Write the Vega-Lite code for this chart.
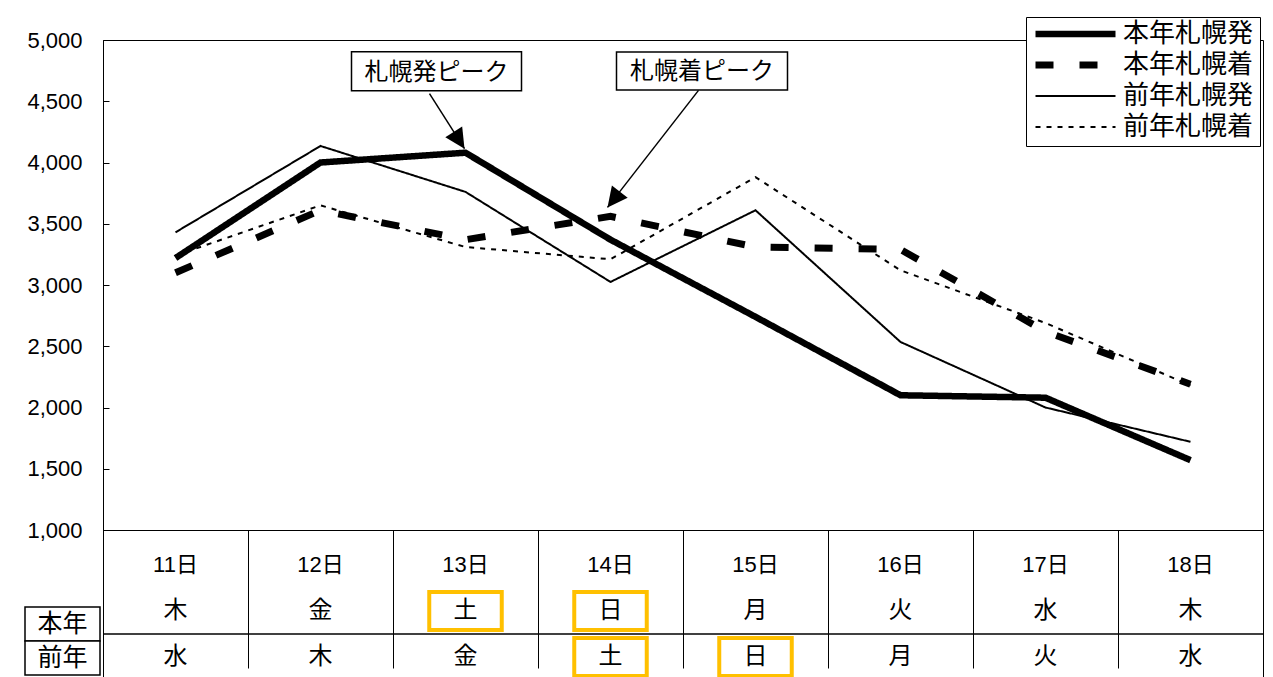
{
  "$schema": "https://vega.github.io/schema/vega-lite/v6.json",
  "width": 1160,
  "height": 637,
  "autosize": {"type": "none"},
  "padding": {"left": 103, "top": 40, "right": 10, "bottom": 0},
  "background": "white",
  "config": {
    "font": "Liberation Sans, Noto Sans CJK JP",
    "view": {"stroke": "black", "strokeWidth": 1},
    "axis": {"grid": false}
  },
  "datasets": {
    "lines": [
      {"day": "11日", "series": "本年札幌発", "value": 3220},
      {"day": "12日", "series": "本年札幌発", "value": 4000},
      {"day": "13日", "series": "本年札幌発", "value": 4080},
      {"day": "14日", "series": "本年札幌発", "value": 3370},
      {"day": "15日", "series": "本年札幌発", "value": 2740},
      {"day": "16日", "series": "本年札幌発", "value": 2100},
      {"day": "17日", "series": "本年札幌発", "value": 2080},
      {"day": "18日", "series": "本年札幌発", "value": 1570},
      {"day": "11日", "series": "本年札幌着", "value": 3100},
      {"day": "12日", "series": "本年札幌着", "value": 3610},
      {"day": "13日", "series": "本年札幌着", "value": 3370},
      {"day": "14日", "series": "本年札幌着", "value": 3560},
      {"day": "15日", "series": "本年札幌着", "value": 3310},
      {"day": "16日", "series": "本年札幌着", "value": 3290},
      {"day": "17日", "series": "本年札幌着", "value": 2620},
      {"day": "18日", "series": "本年札幌着", "value": 2190},
      {"day": "11日", "series": "前年札幌発", "value": 3430},
      {"day": "12日", "series": "前年札幌発", "value": 4135},
      {"day": "13日", "series": "前年札幌発", "value": 3760},
      {"day": "14日", "series": "前年札幌発", "value": 3025},
      {"day": "15日", "series": "前年札幌発", "value": 3610},
      {"day": "16日", "series": "前年札幌発", "value": 2535},
      {"day": "17日", "series": "前年札幌発", "value": 2000},
      {"day": "18日", "series": "前年札幌発", "value": 1720},
      {"day": "11日", "series": "前年札幌着", "value": 3240},
      {"day": "12日", "series": "前年札幌着", "value": 3650},
      {"day": "13日", "series": "前年札幌着", "value": 3310},
      {"day": "14日", "series": "前年札幌着", "value": 3210},
      {"day": "15日", "series": "前年札幌着", "value": 3880},
      {"day": "16日", "series": "前年札幌着", "value": 3120},
      {"day": "17日", "series": "前年札幌着", "value": 2690},
      {"day": "18日", "series": "前年札幌着", "value": 2180}
    ],
    "peaks": [
      {"label": "札幌発ピーク", "day": "13日", "value": 4080},
      {"label": "札幌着ピーク", "day": "14日", "value": 3560}
    ],
    "table": [
      {"day": "11日", "row": "日付", "text": "11日"},
      {"day": "12日", "row": "日付", "text": "12日"},
      {"day": "13日", "row": "日付", "text": "13日"},
      {"day": "14日", "row": "日付", "text": "14日"},
      {"day": "15日", "row": "日付", "text": "15日"},
      {"day": "16日", "row": "日付", "text": "16日"},
      {"day": "17日", "row": "日付", "text": "17日"},
      {"day": "18日", "row": "日付", "text": "18日"},
      {"day": "11日", "row": "本年", "text": "木"},
      {"day": "12日", "row": "本年", "text": "金"},
      {"day": "13日", "row": "本年", "text": "土"},
      {"day": "14日", "row": "本年", "text": "日"},
      {"day": "15日", "row": "本年", "text": "月"},
      {"day": "16日", "row": "本年", "text": "火"},
      {"day": "17日", "row": "本年", "text": "水"},
      {"day": "18日", "row": "本年", "text": "木"},
      {"day": "11日", "row": "前年", "text": "水"},
      {"day": "12日", "row": "前年", "text": "木"},
      {"day": "13日", "row": "前年", "text": "金"},
      {"day": "14日", "row": "前年", "text": "土"},
      {"day": "15日", "row": "前年", "text": "日"},
      {"day": "16日", "row": "前年", "text": "月"},
      {"day": "17日", "row": "前年", "text": "火"},
      {"day": "18日", "row": "前年", "text": "水"}
    ],
    "highlights": [
      {"day": "13日", "row": "本年"},
      {"day": "14日", "row": "本年"},
      {"day": "14日", "row": "前年"},
      {"day": "15日", "row": "前年"}
    ],
    "divider": [{"row": "前年"}],
    "rowlabels": [
      {"col": "ラベル", "row": "本年"},
      {"col": "ラベル", "row": "前年"}
    ]
  },
  "layer": [
    {
      "layer": [
        {
          "data": {"name": "lines"},
          "mark": {"type": "line", "color": "black", "strokeCap": "butt"},
          "encoding": {
            "x": {
              "field": "day", "type": "nominal", "sort": null,
              "scale": {"domain": ["11日","12日","13日","14日","15日","16日","17日","18日"], "paddingInner": 0, "paddingOuter": 0},
              "axis": {"orient": "bottom", "offset": -147, "labels": false, "title": null, "domainColor": "black", "domainWidth": 1, "tickColor": "black", "tickWidth": 1, "tickSize": 138, "bandPosition": 1, "tickExtra": true}
            },
            "y": {
              "field": "value", "type": "quantitative",
              "scale": {"domain": [1000, 5000], "range": [490, 0], "nice": false, "zero": false},
              "axis": {"orient": "left", "values": [1000,1500,2000,2500,3000,3500,4000,4500,5000], "format": ",d", "title": null, "labelFontSize": 22, "labelColor": "black", "tickSize": -6, "tickColor": "black", "domainColor": "black", "labelPadding": 27}
            },
            "strokeDash": {
              "field": "series", "type": "nominal",
              "scale": {"domain": ["本年札幌発","本年札幌着","前年札幌発","前年札幌着"], "range": [[1,0],[18,26],[1,0],[5,6]]},
              "legend": {"title": null, "orient": "none", "legendX": 923, "legendY": -23, "symbolType": "stroke", "symbolSize": 6400, "symbolStrokeColor": "black", "clipHeight": 22, "rowPadding": 5, "padding": 6, "strokeColor": "black", "fillColor": "white", "labelFontSize": 26, "labelColor": "black", "labelOffset": 4}
            },
            "strokeWidth": {
              "field": "series", "type": "nominal",
              "scale": {"type": "ordinal", "domain": ["本年札幌発","本年札幌着","前年札幌発","前年札幌着"], "range": [6.5, 7, 2, 2]},
              "legend": {"title": null, "orient": "none", "legendX": 923, "legendY": -23, "symbolType": "stroke", "symbolSize": 6400, "symbolStrokeColor": "black", "clipHeight": 22, "rowPadding": 5, "padding": 6, "strokeColor": "black", "fillColor": "white", "labelFontSize": 26, "labelColor": "black", "labelOffset": 4}
            }
          }
        },
        {
          "data": {"name": "peaks"},
          "transform": [{"filter": "datum.label === '札幌発ピーク'"}],
          "encoding": {
            "x": {"field": "day", "type": "nominal", "scale": {"domain": ["11日","12日","13日","14日","15日","16日","17日","18日"], "paddingInner": 0, "paddingOuter": 0}},
            "y": {"field": "value", "type": "quantitative", "scale": {"domain": [1000, 5000], "range": [490, 0], "nice": false, "zero": false}}
          },
          "layer": [
            {
              "mark": {"type": "rule", "color": "black", "strokeWidth": 1.5, "xOffset": -36, "yOffset": -59, "x2Offset": -1, "y2Offset": -4},
              "encoding": {"x2": {"field": "day"}, "y2": {"field": "value"}}
            },
            {
              "mark": {"type": "point", "shape": "M0,0L-0.55,-1.1L0.55,-1.1Z", "size": 1323, "filled": true, "color": "black", "opacity": 1, "angle": -32.5, "xOffset": -1, "yOffset": -4}
            },
            {
              "mark": {"type": "point", "shape": "M-1,-0.229L1,-0.229L1,0.229L-1,0.229Z", "size": 28900, "filled": true, "fill": "white", "stroke": "black", "strokeWidth": 1.5, "opacity": 1, "xOffset": -29, "yOffset": -81.5}
            },
            {
              "mark": {"type": "text", "fontSize": 24, "color": "black", "align": "center", "baseline": "middle", "xOffset": -29, "yOffset": -80},
              "encoding": {"text": {"field": "label"}}
            }
          ]
        },
        {
          "data": {"name": "peaks"},
          "transform": [{"filter": "datum.label === '札幌着ピーク'"}],
          "encoding": {
            "x": {"field": "day", "type": "nominal", "scale": {"domain": ["11日","12日","13日","14日","15日","16日","17日","18日"], "paddingInner": 0, "paddingOuter": 0}},
            "y": {"field": "value", "type": "quantitative", "scale": {"domain": [1000, 5000], "range": [490, 0], "nice": false, "zero": false}}
          },
          "layer": [
            {
              "mark": {"type": "rule", "color": "black", "strokeWidth": 1.5, "xOffset": 88, "yOffset": -126, "x2Offset": -3, "y2Offset": -9},
              "encoding": {"x2": {"field": "day"}, "y2": {"field": "value"}}
            },
            {
              "mark": {"type": "point", "shape": "M0,0L-0.55,-1.1L0.55,-1.1Z", "size": 1323, "filled": true, "color": "black", "opacity": 1, "angle": 37.9, "xOffset": -3, "yOffset": -9}
            },
            {
              "mark": {"type": "point", "shape": "M-1,-0.222L1,-0.222L1,0.222L-1,0.222Z", "size": 29241, "filled": true, "fill": "white", "stroke": "black", "strokeWidth": 1.5, "opacity": 1, "xOffset": 91.5, "yOffset": -145.5}
            },
            {
              "mark": {"type": "text", "fontSize": 24, "color": "black", "align": "center", "baseline": "middle", "xOffset": 91.5, "yOffset": -144},
              "encoding": {"text": {"field": "label"}}
            }
          ]
        }
      ]
    },
    {
      "layer": [
        {
          "data": {"name": "table"},
          "mark": {"type": "text", "color": "black", "align": "center", "baseline": "middle"},
          "encoding": {
            "x": {"field": "day", "type": "nominal", "scale": {"domain": ["11日","12日","13日","14日","15日","16日","17日","18日"], "paddingInner": 0, "paddingOuter": 0}, "axis": null},
            "y": {"field": "row", "type": "nominal", "scale": {"domain": ["日付","本年","前年"], "range": [502, 640], "paddingInner": 0, "paddingOuter": 0}, "axis": null},
            "text": {"field": "text"},
            "size": {"condition": {"test": "datum.row === '日付'", "value": 22}, "value": 24}
          }
        },
        {
          "data": {"name": "highlights"},
          "mark": {"type": "rect", "filled": false, "stroke": "#FFC000", "strokeWidth": 4, "width": {"band": 0.5}, "height": {"band": 0.83}},
          "encoding": {
            "x": {"field": "day", "type": "nominal", "scale": {"domain": ["11日","12日","13日","14日","15日","16日","17日","18日"], "paddingInner": 0, "paddingOuter": 0}, "axis": null},
            "y": {"field": "row", "type": "nominal", "scale": {"domain": ["日付","本年","前年"], "range": [502, 640], "paddingInner": 0, "paddingOuter": 0}, "axis": null}
          }
        },
        {
          "data": {"name": "divider"},
          "mark": {"type": "rule", "color": "black", "strokeWidth": 1.5},
          "encoding": {
            "y": {"field": "row", "type": "nominal", "bandPosition": 0, "scale": {"domain": ["日付","本年","前年"], "range": [502, 640], "paddingInner": 0, "paddingOuter": 0}, "axis": null}
          }
        }
      ]
    },
    {
      "data": {"name": "rowlabels"},
      "layer": [
        {
          "mark": {"type": "rect", "fill": "white", "stroke": "black", "strokeWidth": 1.5},
          "encoding": {
            "x": {"field": "col", "type": "nominal", "scale": {"domain": ["ラベル"], "range": [-78, -3], "paddingInner": 0, "paddingOuter": 0}, "axis": null},
            "y": {"field": "row", "type": "nominal", "scale": {"domain": ["本年","前年"], "range": [567, 635], "paddingInner": 0, "paddingOuter": 0}, "axis": null}
          }
        },
        {
          "mark": {"type": "text", "color": "black", "fontSize": 25, "align": "center", "baseline": "middle"},
          "encoding": {
            "x": {"field": "col", "type": "nominal", "scale": {"domain": ["ラベル"], "range": [-78, -3], "paddingInner": 0, "paddingOuter": 0}, "axis": null},
            "y": {"field": "row", "type": "nominal", "scale": {"domain": ["本年","前年"], "range": [567, 635], "paddingInner": 0, "paddingOuter": 0}, "axis": null},
            "text": {"field": "row"}
          }
        }
      ]
    }
  ],
  "resolve": {"scale": {"x": "independent", "y": "independent"}}
}
